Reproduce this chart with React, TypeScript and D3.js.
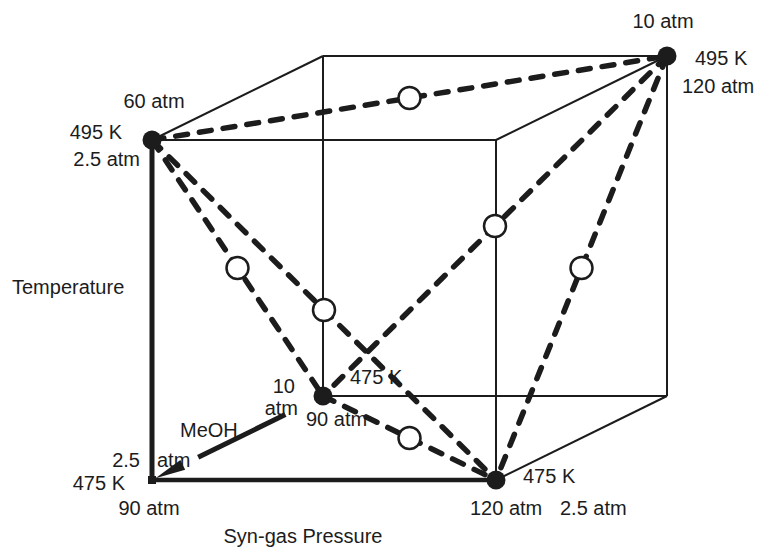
import React from "react";
import * as d3 from "d3";

// factor levels of the design
const pressureLevels = [90, 120]; // syn-gas pressure, atm
const tempLevels = [475, 495]; // temperature, K
const meohLevels = [2.5, 10]; // MeOH partial pressure, atm

// corner runs (filled dots): [syn-gas, temperature, MeOH]
const cornerRuns: [number, number, number][] = [
  [90, 495, 2.5],
  [120, 495, 10],
  [90, 475, 10],
  [120, 475, 2.5],
];

// text shown next to each corner run
const cornerLabels = [
  ["60 atm", "495 K", "2.5 atm"],
  ["10 atm", "495 K", "120 atm"],
  ["10", "atm", "475 K", "90 atm"],
  ["475 K", "120 atm", "2.5 atm"],
];
const originLabels = ["2.5", "atm", "475 K", "90 atm"];
const axisTitles = ["Temperature", "MeOH", "Syn-gas Pressure"];

const W = 758;
const H = 549;
const ink = "#1c1c1c";
const font = "'Liberation Sans', Arial, sans-serif";

const x = d3.scaleLinear().domain(pressureLevels).range([152, 496]);
const y = d3.scaleLinear().domain(tempLevels).range([480, 140]);
const depth = d3.scaleLinear().domain(meohLevels).range([0, 1]);
const DX = 171;
const DY = -84;

type P = { x: number; y: number };
const proj = (p: number, t: number, m: number): P => ({
  x: x(p) + depth(m) * DX,
  y: y(t) + depth(m) * DY,
});

export default function App() {
  const [p0, p1] = pressureLevels;
  const [t0, t1] = tempLevels;
  const [m0, m1] = meohLevels;

  // cube edges (the MeOH edge at the origin is the arrow)
  const edges: [P, P, number][] = [
    [proj(p0, t1, m0), proj(p1, t1, m0), 2],
    [proj(p1, t1, m0), proj(p1, t0, m0), 2],
    [proj(p0, t1, m1), proj(p1, t1, m1), 2],
    [proj(p1, t1, m1), proj(p1, t0, m1), 2],
    [proj(p0, t0, m1), proj(p1, t0, m1), 2],
    [proj(p0, t1, m1), proj(p0, t0, m1), 2],
    [proj(p0, t1, m0), proj(p0, t1, m1), 2],
    [proj(p1, t1, m0), proj(p1, t1, m1), 2],
    [proj(p1, t0, m0), proj(p1, t0, m1), 2],
    [proj(p0, t0, m0), proj(p0, t1, m0), 5],
    [proj(p0, t0, m0), proj(p1, t0, m0), 4.5],
  ];

  const corners = cornerRuns.map(([p, t, m]) => proj(p, t, m));
  const pairs: [P, P][] = [];
  for (let i = 0; i < corners.length; i++)
    for (let j = i + 1; j < corners.length; j++) pairs.push([corners[i], corners[j]]);
  const centers = pairs.map(([a, b]) => ({ x: (a.x + b.x) / 2, y: (a.y + b.y) / 2 }));

  const O = proj(p0, t0, m0);
  const B = proj(p0, t0, m1);
  const along = (t: number): P => ({ x: O.x + (B.x - O.x) * t, y: O.y + (B.y - O.y) * t });
  const a0 = along(0.27);
  const a1 = along(0.78);
  const tip = along(0.02);
  const base = along(0.18);
  const ang = Math.atan2(B.y - O.y, B.x - O.x);
  const nx = -Math.sin(ang) * 5.5;
  const ny = Math.cos(ang) * 5.5;

  // label offsets per corner: [dx, dy, anchor]
  const offs: [number, number, string][][] = [
    [[2, -32, "middle"], [-30, -1, "end"], [-12, 26, "end"]],
    [[-4, -28, "middle"], [28, 9, "start"], [15, 37, "start"]],
    [[-28, -3, "end"], [-25, 19, "end"], [27, -12, "start"], [-17, 30, "start"]],
    [[27, 3, "start"], [-26, 35, "start"], [64, 35, "start"]],
  ];
  const originOffs: [number, number, string][] = [
    [-12, -13, "end"], [5, -13, "start"], [-27, 10, "end"], [-3, 35, "middle"],
  ];

  return (
    <svg width={W} height={H} style={{ position: "absolute", left: 0, top: 0, background: "#fff" }}
      fontFamily={font} fontSize={20} fill={ink}>
      <rect width={W} height={H} fill="#fff" />
      {edges.map(([a, b, w], i) => (
        <line key={"e" + i} x1={a.x} y1={a.y} x2={b.x} y2={b.y} stroke={ink} strokeWidth={w} />
      ))}
      {/* MeOH arrow */}
      <line x1={a0.x} y1={a0.y} x2={a1.x} y2={a1.y} stroke={ink} strokeWidth={5} />
      <path d={`M${tip.x},${tip.y}L${base.x + nx},${base.y + ny}L${base.x - nx},${base.y - ny}Z`} fill={ink} />
      {pairs.map(([a, b], i) => (
        <line key={"d" + i} x1={a.x} y1={a.y} x2={b.x} y2={b.y} stroke={ink}
          strokeWidth={5.5} strokeDasharray="12 12" strokeLinecap="round" />
      ))}
      {centers.map((c, i) => (
        <circle key={"c" + i} cx={c.x} cy={c.y} r={11} fill="#fff" stroke={ink} strokeWidth={2.5} />
      ))}
      {corners.map((c, i) => (
        <circle key={"k" + i} cx={c.x} cy={c.y} r={9.5} fill={ink} />
      ))}
      <rect x={O.x - 4} y={O.y - 4} width={8} height={8} fill={ink} />
      {corners.map((c, i) =>
        cornerLabels[i].map((s, j) => (
          <text key={`l${i}-${j}`} x={c.x + offs[i][j][0]} y={c.y + offs[i][j][1]} textAnchor={offs[i][j][2]}>
            {s}
          </text>
        ))
      )}
      {originLabels.map((s, j) => (
        <text key={"o" + j} x={O.x + originOffs[j][0]} y={O.y + originOffs[j][1]} textAnchor={originOffs[j][2]}>
          {s}
        </text>
      ))}
      <text x={12} y={294}>{axisTitles[0]}</text>
      <text x={180} y={437}>{axisTitles[1]}</text>
      <text x={303} y={543} textAnchor="middle">{axisTitles[2]}</text>
    </svg>
  );
}
